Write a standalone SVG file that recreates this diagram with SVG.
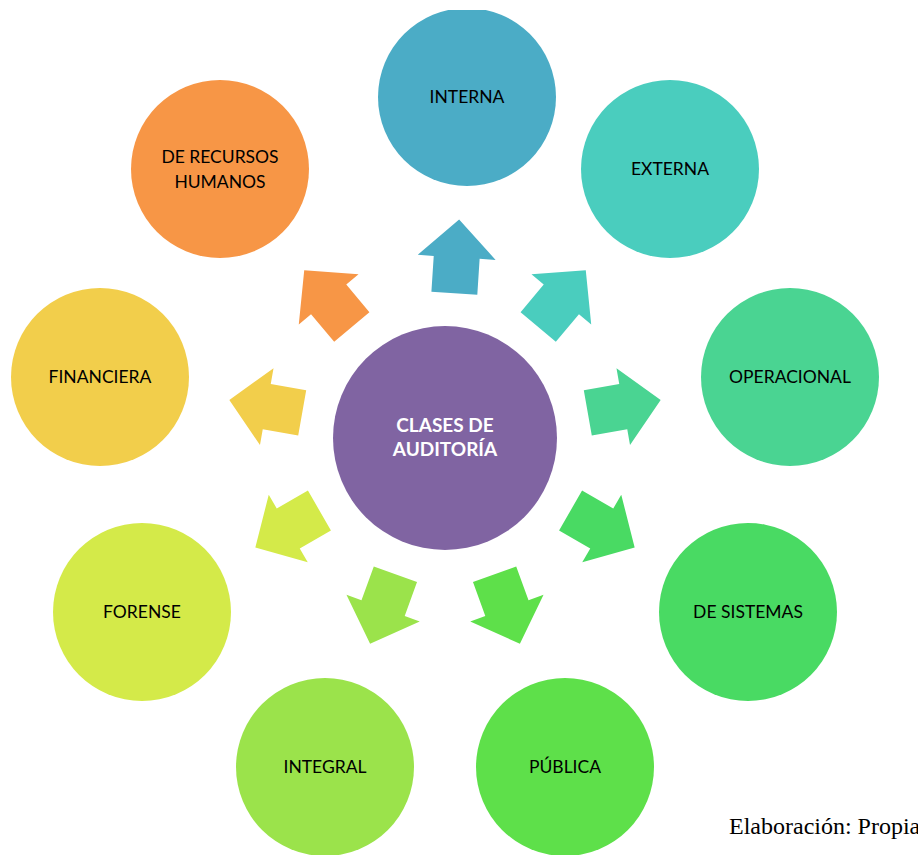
<svg xmlns="http://www.w3.org/2000/svg" width="918" height="855" viewBox="0 0 918 855">
<style>
.lbl{font-family:Lato,"Open Sans","Liberation Sans",sans-serif;font-size:17.5px;fill:#000;text-anchor:middle}
.ctr{font-family:Lato,"Open Sans","Liberation Sans",sans-serif;font-size:19px;font-weight:bold;fill:#fff;text-anchor:middle}
.note{font-family:"Liberation Serif",serif;font-size:24px;fill:#000}
</style>
<defs>
<polygon id="arr" points="-23,-145 23,-145 23,-181 39,-181 0,-219 -39,-181 -23,-181"/>
<clipPath id="clipTop"><rect x="0" y="10" width="918" height="845"/></clipPath>
</defs>
<rect width="918" height="855" fill="#fff"/>
<g id="connectors">
<use href="#arr" fill="#4BACC6" transform="translate(445,438) rotate(3.7)"/>
<use href="#arr" fill="#4ACDBE" transform="translate(445,438) rotate(40)"/>
<use href="#arr" fill="#4AD492" transform="translate(445,438) rotate(80)"/>
<use href="#arr" fill="#49DA63" transform="translate(445,438) rotate(120)"/>
<use href="#arr" fill="#5EE04A" transform="translate(445,438) rotate(160)"/>
<use href="#arr" fill="#9BE34B" transform="translate(445,438) rotate(200)"/>
<use href="#arr" fill="#D4EA49" transform="translate(445,438) rotate(240)"/>
<use href="#arr" fill="#F2CE4B" transform="translate(445,438) rotate(280)"/>
<use href="#arr" fill="#F79646" transform="translate(445,438) rotate(320)"/>
</g>
<g id="center">
<circle cx="445" cy="438" r="112" fill="#8064A2"/>
<text class="ctr" x="445" y="432">CLASES DE</text>
<text class="ctr" x="445" y="456">AUDITORÍA</text>
</g>
<g id="interna" clip-path="url(#clipTop)">
<circle cx="467" cy="97" r="89" fill="#4BACC6"/>
<text class="lbl" x="467" y="103">INTERNA</text>
</g>
<g id="externa">
<circle cx="670" cy="169" r="89" fill="#4ACDBE"/>
<text class="lbl" x="670" y="175">EXTERNA</text>
</g>
<g id="operacional">
<circle cx="790" cy="377" r="89" fill="#4AD492"/>
<text class="lbl" x="790" y="383">OPERACIONAL</text>
</g>
<g id="sistemas">
<circle cx="748" cy="612" r="89" fill="#49DA63"/>
<text class="lbl" x="748" y="618">DE SISTEMAS</text>
</g>
<g id="publica">
<circle cx="565" cy="767" r="89" fill="#5EE04A"/>
<text class="lbl" x="565" y="773">PÚBLICA</text>
</g>
<g id="integral">
<circle cx="325" cy="767" r="89" fill="#9BE34B"/>
<text class="lbl" x="325" y="773">INTEGRAL</text>
</g>
<g id="forense">
<circle cx="142" cy="612" r="89" fill="#D4EA49"/>
<text class="lbl" x="142" y="618">FORENSE</text>
</g>
<g id="financiera">
<circle cx="100" cy="377" r="89" fill="#F2CE4B"/>
<text class="lbl" x="100" y="383">FINANCIERA</text>
</g>
<g id="rrhh">
<circle cx="220" cy="169" r="89" fill="#F79646"/>
<text class="lbl" x="220" y="163">DE RECURSOS</text>
<text class="lbl" x="220" y="188">HUMANOS</text>
</g>
<text class="note" x="729" y="834">Elaboración: Propia</text>
</svg>
